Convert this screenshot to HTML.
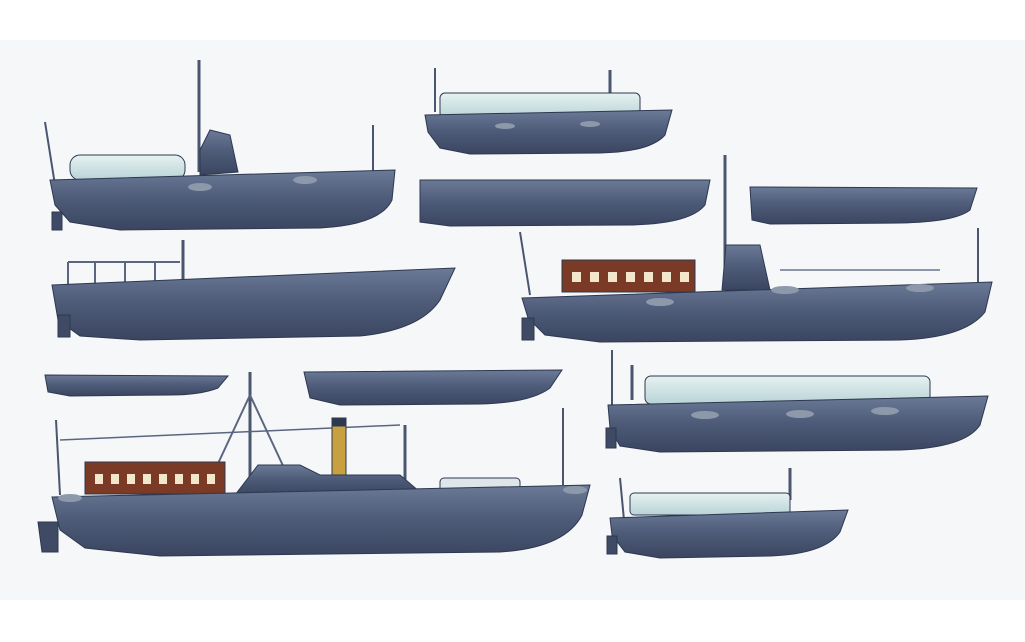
<!DOCTYPE html>
<html><head><meta charset="utf-8">
<style>
html,body{margin:0;padding:0;background:#fff;}
svg{display:block;}
</style></head>
<body>
<svg width="1025" height="642" viewBox="0 0 1025 642" xmlns="http://www.w3.org/2000/svg">
<defs>
<linearGradient id="hull" x1="0" y1="0" x2="0" y2="1">
<stop offset="0" stop-color="#6b7a96"/><stop offset="0.45" stop-color="#4f5d7a"/><stop offset="1" stop-color="#3a4560"/>
</linearGradient>
<linearGradient id="can" x1="0" y1="0" x2="0" y2="1">
<stop offset="0" stop-color="#e6f2f2"/><stop offset="1" stop-color="#b9d3d6"/>
</linearGradient>
</defs>
<rect width="1025" height="642" fill="#ffffff"/>
<rect x="0" y="40" width="1025" height="560" fill="#f6f7f9"/>
<g stroke="#2e3850" stroke-width="1" fill="url(#hull)">
<!-- Boat 1 -->
<line x1="199" y1="60" x2="199" y2="172" stroke="#4a5670" stroke-width="3"/>
<line x1="45" y1="122" x2="55" y2="185" stroke="#4a5670" stroke-width="2"/>
<line x1="373" y1="125" x2="373" y2="172" stroke="#4a5670" stroke-width="2"/>
<rect x="70" y="155" width="115" height="25" rx="10" fill="url(#can)"/>
<path d="M200 150 L210 130 L230 135 L238 172 L200 175 Z"/>
<path d="M50 180 L395 170 L392 200 Q380 225 320 228 L120 230 L70 222 L55 205 Z"/>
<rect x="52" y="212" width="10" height="18" fill="#3f4a64"/>
<!-- Boat 2 -->
<line x1="435" y1="68" x2="435" y2="112" stroke="#4a5670" stroke-width="2"/>
<line x1="610" y1="70" x2="610" y2="95" stroke="#4a5670" stroke-width="3"/>
<rect x="440" y="93" width="200" height="25" rx="5" fill="url(#can)"/>
<path d="M425 115 L672 110 L665 135 Q650 152 600 153 L470 154 L440 148 L428 132 Z"/>
<!-- Boat 3 -->
<path d="M420 180 L710 180 L705 205 Q690 224 630 225 L450 226 L420 222 Z"/>
<!-- Boat 4 -->
<path d="M750 187 L977 188 L970 210 Q955 222 900 223 L770 224 L752 220 Z"/>
<!-- Boat 5 -->
<line x1="183" y1="240" x2="183" y2="288" stroke="#4a5670" stroke-width="3"/>
<path d="M68 262 L180 262 M68 262 L68 285 M95 262 L95 285 M125 262 L125 285 M155 262 L155 285" fill="none" stroke="#5a6680" stroke-width="2"/>
<path d="M52 285 L455 268 L440 300 Q420 330 360 336 L140 340 L80 336 L58 320 Z"/>
<rect x="58" y="315" width="12" height="22" fill="#3f4a64"/>
<!-- Boat 6 -->
<line x1="725" y1="155" x2="725" y2="290" stroke="#4a5670" stroke-width="3"/>
<line x1="520" y1="232" x2="530" y2="295" stroke="#4a5670" stroke-width="2"/>
<line x1="978" y1="228" x2="978" y2="282" stroke="#4a5670" stroke-width="2"/>
<rect x="562" y="260" width="133" height="32" fill="#7a3a26"/>
<g fill="#f2e6cc" stroke="none"><rect x="572" y="272" width="9" height="10"/><rect x="590" y="272" width="9" height="10"/><rect x="608" y="272" width="9" height="10"/><rect x="626" y="272" width="9" height="10"/><rect x="644" y="272" width="9" height="10"/><rect x="662" y="272" width="9" height="10"/><rect x="680" y="272" width="9" height="10"/></g>
<path d="M722 290 L726 245 L760 245 L770 290 Z"/>
<path d="M780 270 L940 270" fill="none" stroke="#8a96aa" stroke-width="2"/>
<path d="M522 298 L992 282 L985 312 Q965 338 900 340 L600 342 L545 335 L528 318 Z"/>
<rect x="522" y="318" width="12" height="22" fill="#3f4a64"/>
<!-- Boat 7 -->
<path d="M45 375 L228 376 L218 388 Q200 395 170 395 L70 396 L48 392 Z"/>
<!-- Boat 8 -->
<path d="M304 372 L562 370 L550 388 Q530 403 480 404 L340 405 L310 398 Z"/>
<!-- Boat 9 -->
<line x1="612" y1="350" x2="612" y2="408" stroke="#4a5670" stroke-width="2"/>
<line x1="632" y1="365" x2="632" y2="400" stroke="#4a5670" stroke-width="3"/>
<rect x="645" y="376" width="285" height="28" rx="6" fill="url(#can)"/>
<path d="M608 405 L988 396 L980 425 Q965 448 900 450 L660 452 L620 446 L610 428 Z"/>
<rect x="606" y="428" width="10" height="20" fill="#3f4a64"/>
<!-- Boat 10 -->
<line x1="250" y1="372" x2="250" y2="490" stroke="#4a5670" stroke-width="3"/>
<line x1="56" y1="420" x2="60" y2="495" stroke="#4a5670" stroke-width="2"/>
<line x1="563" y1="408" x2="563" y2="485" stroke="#4a5670" stroke-width="2"/>
<line x1="60" y1="440" x2="400" y2="425" stroke="#5a6680" stroke-width="1.5"/>
<line x1="215" y1="470" x2="250" y2="395" stroke="#5a6680" stroke-width="2"/>
<line x1="250" y1="395" x2="285" y2="470" stroke="#5a6680" stroke-width="2"/>
<rect x="332" y="418" width="14" height="58" fill="#c8a040"/>
<rect x="332" y="418" width="14" height="8" fill="#2e3850"/>
<line x1="405" y1="425" x2="405" y2="480" stroke="#4a5670" stroke-width="3"/>
<rect x="85" y="462" width="140" height="32" fill="#7a3a26"/>
<g fill="#f2e6cc" stroke="none"><rect x="95" y="474" width="8" height="10"/><rect x="111" y="474" width="8" height="10"/><rect x="127" y="474" width="8" height="10"/><rect x="143" y="474" width="8" height="10"/><rect x="159" y="474" width="8" height="10"/><rect x="175" y="474" width="8" height="10"/><rect x="191" y="474" width="8" height="10"/><rect x="207" y="474" width="8" height="10"/></g>
<path d="M235 495 L258 465 L300 465 L320 475 L400 475 L420 492 Z"/>
<rect x="440" y="478" width="80" height="14" rx="4" fill="#dfe6ea"/>
<path d="M52 497 L590 485 L582 515 Q565 548 500 552 L160 556 L85 548 L60 530 Z"/>
<path d="M38 522 L58 522 L58 552 L42 552 Z" fill="#3f4a64"/>
<!-- Boat 11 -->
<line x1="620" y1="478" x2="624" y2="520" stroke="#4a5670" stroke-width="2"/>
<line x1="790" y1="468" x2="790" y2="500" stroke="#4a5670" stroke-width="3"/>
<rect x="630" y="493" width="160" height="22" rx="4" fill="url(#can)"/>
<path d="M610 518 L848 510 L840 532 Q825 554 770 556 L660 558 L625 552 L612 535 Z"/>
<rect x="607" y="536" width="10" height="18" fill="#3f4a64"/>
</g>
<!-- deck detail bumps -->
<g fill="#8d98ab" stroke="none">
<ellipse cx="200" cy="187" rx="12" ry="4"/><ellipse cx="305" cy="180" rx="12" ry="4"/>
<ellipse cx="505" cy="126" rx="10" ry="3"/><ellipse cx="590" cy="124" rx="10" ry="3"/>
<ellipse cx="660" cy="302" rx="14" ry="4"/><ellipse cx="785" cy="290" rx="14" ry="4"/><ellipse cx="920" cy="288" rx="14" ry="4"/>
<ellipse cx="705" cy="415" rx="14" ry="4"/><ellipse cx="800" cy="414" rx="14" ry="4"/><ellipse cx="885" cy="411" rx="14" ry="4"/>
<ellipse cx="70" cy="498" rx="12" ry="4"/><ellipse cx="575" cy="490" rx="12" ry="4"/>
</g>
</svg>
</body></html>
